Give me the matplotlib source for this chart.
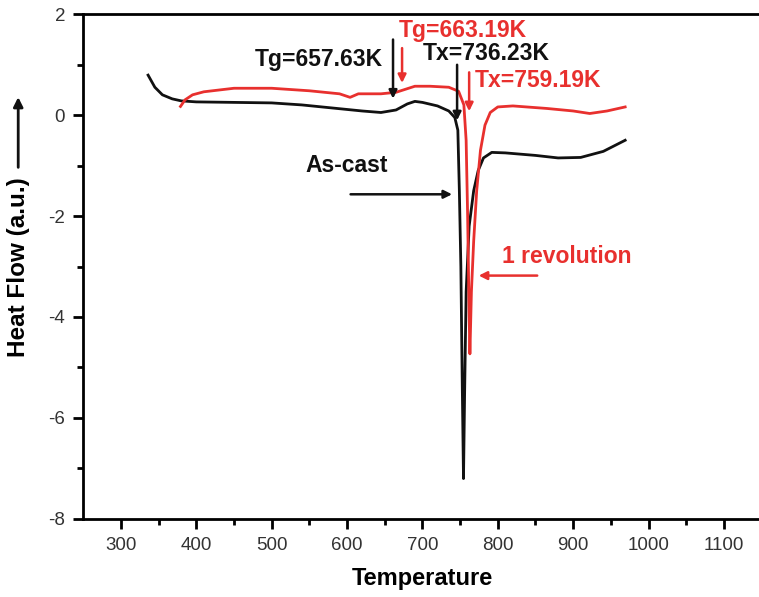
import matplotlib
matplotlib.use("Agg")
import matplotlib.pyplot as plt

plt.rcParams['font.family'] = ['Liberation Sans', 'DejaVu Sans']
plt.rcParams['axes.unicode_minus'] = False

# As-cast (black)
ascast_T = [336, 345, 355, 368, 380, 400, 450, 500, 540, 580, 620, 645, 665, 680, 690,
            700, 720, 735, 743, 747, 749, 751, 753, 754.5, 756, 758, 762, 768, 774,
            781, 792, 810, 850, 880, 910, 940, 969]
ascast_H = [0.79, 0.55, 0.40, 0.32, 0.28, 0.26, 0.25, 0.24, 0.20, 0.14, 0.08, 0.05, 0.10,
            0.22, 0.27, 0.25, 0.18, 0.08, -0.05, -0.30, -1.5, -3.0, -5.5, -7.2, -5.5,
            -3.5, -2.2, -1.5, -1.1, -0.85, -0.74, -0.75, -0.80, -0.85, -0.84, -0.72, -0.50]

# 1 revolution (red)
rev_T = [379, 385, 395, 410, 450, 500, 550, 590, 604, 615, 645, 665, 690, 710, 735, 748,
         755, 758, 760, 762, 763, 765, 768, 772, 777, 783, 790, 800, 820, 865, 900, 922,
         945, 969]
rev_H = [0.17, 0.30, 0.40, 0.46, 0.53, 0.53, 0.48, 0.42, 0.35, 0.42, 0.42, 0.45, 0.57,
         0.57, 0.55, 0.47, 0.20, -0.5, -2.0, -4.0, -4.73, -3.5, -2.5, -1.5, -0.7, -0.2,
         0.05, 0.16, 0.18, 0.13, 0.08, 0.03, 0.08, 0.16]

x_ticks = [300, 400, 500, 600, 700, 800, 900, 1000, 1100]
y_ticks = [-8, -6, -4, -2, 0, 2]

RED = '#e8302e'
BLK = '#111111'

fig = plt.figure(figsize=(7.59, 5.97), dpi=100)
ax = fig.add_axes([0.1097, 0.1307, 0.8937, 0.8458])

ax.plot(ascast_T, ascast_H, color=BLK, lw=2.0)
ax.plot(rev_T, rev_H, color=RED, lw=2.0)

ax.set_xlim(250, 1150)
ax.set_ylim(-8, 2)
ax.set_xticks(x_ticks)
ax.set_yticks(y_ticks)
ax.set_xticks([350, 450, 550, 650, 750, 850, 950, 1050], minor=True)
ax.set_yticks([-7, -5, -3, -1, 1], minor=True)
ax.tick_params(which='major', direction='out', length=7, width=2, labelsize=13.5,
               labelcolor='#333333', pad=6)
ax.tick_params(which='minor', direction='out', length=4, width=2)
for s in ax.spines.values():
    s.set_linewidth(2)

ax.set_xlabel('Temperature', fontsize=17, fontweight='bold', labelpad=9)
fig.text(0.024, 0.553, 'Heat Flow (a.u.)', rotation=90, fontsize=17.5,
         fontweight='bold', ha='center', va='center')
fig.add_artist(matplotlib.patches.FancyArrowPatch(
    (0.024, 0.715), (0.024, 0.842), transform=fig.transFigure,
    arrowstyle='-|>', mutation_scale=14, lw=2, color=BLK))

arw = dict(arrowstyle='-|>', lw=1.8, mutation_scale=12)
FS = 16.5

ax.annotate('', xy=(661, 0.27), xytext=(661, 1.55),
            arrowprops=dict(arw, color=BLK))
ax.text(563, 1.1, 'Tg=657.63K', fontsize=FS, fontweight='bold', color=BLK,
        ha='center', va='center')

ax.annotate('', xy=(673, 0.58), xytext=(673, 1.38),
            arrowprops=dict(arw, color=RED))
ax.text(668, 1.67, 'Tg=663.19K', fontsize=FS, fontweight='bold', color=RED,
        ha='left', va='center')

ax.annotate('', xy=(746, -0.16), xytext=(746, 1.05),
            arrowprops=dict(arw, color=BLK))
ax.text(700, 1.22, 'Tx=736.23K', fontsize=FS, fontweight='bold', color=BLK,
        ha='left', va='center')

ax.annotate('', xy=(762, 0.02), xytext=(762, 0.9),
            arrowprops=dict(arw, color=RED))
ax.text(770, 0.68, 'Tx=759.19K', fontsize=FS, fontweight='bold', color=RED,
        ha='left', va='center')

ax.text(599, -1.0, 'As-cast', fontsize=FS, fontweight='bold', color=BLK,
        ha='center', va='center')
ax.annotate('', xy=(743, -1.57), xytext=(601, -1.57),
            arrowprops=dict(arw, color=BLK))

ax.text(806, -2.8, '1 revolution', fontsize=FS, fontweight='bold', color=RED,
        ha='left', va='center')
ax.annotate('', xy=(771, -3.18), xytext=(856, -3.18),
            arrowprops=dict(arw, color=RED))

fig.savefig('out.png', dpi=100)
